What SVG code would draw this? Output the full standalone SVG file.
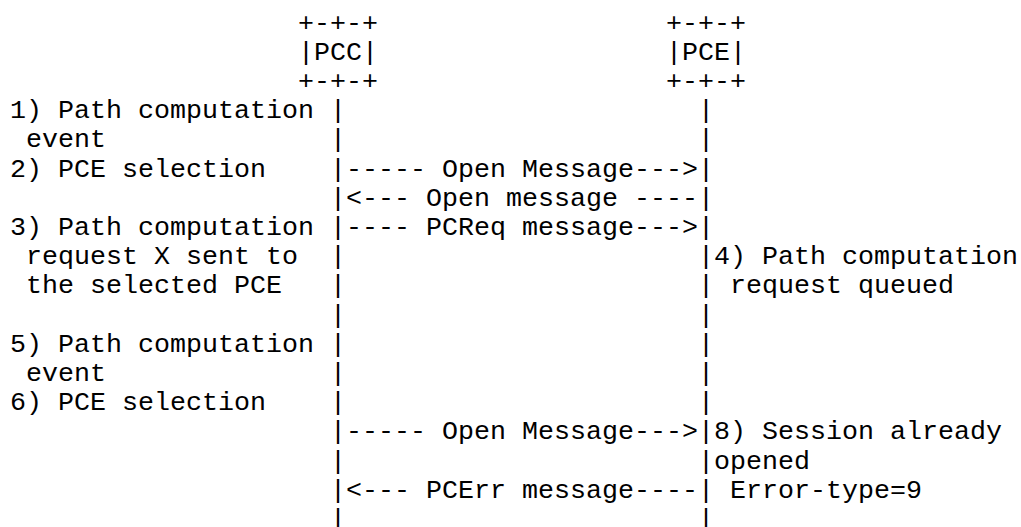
<svg xmlns="http://www.w3.org/2000/svg" width="1021" height="527" viewBox="0 0 1021 527">
  <style>
    /* monospaced grid: 16px per column (x = 10 + 16*col), 29.2px per row */
    .t { font-family: "Courier New", "Liberation Mono", monospace; font-size: 26.67px; fill: #000; white-space: pre; }
  </style>
  <rect width="1021" height="527" fill="#fff"/>

  <!-- PCC entity box -->
  <g id="pcc">
    <text class="t" x="298" y="30.5">+-+-+</text>
    <text class="t" x="298" y="59.7">|PCC|</text>
    <text class="t" x="298" y="88.9">+-+-+</text>
  </g>

  <!-- PCE entity box -->
  <g id="pce">
    <text class="t" x="666" y="30.5">+-+-+</text>
    <text class="t" x="666" y="59.7">|PCE|</text>
    <text class="t" x="666" y="88.9">+-+-+</text>
  </g>

  <g id="connectors">
    <!-- lifelines: one bar per row under each entity -->
    <text id="lifeline-pcc" class="t"><tspan x="330" y="118.1">|</tspan><tspan x="330" y="147.3">|</tspan><tspan x="330" y="176.5">|</tspan><tspan x="330" y="205.7">|</tspan><tspan x="330" y="234.9">|</tspan><tspan x="330" y="264.1">|</tspan><tspan x="330" y="293.3">|</tspan><tspan x="330" y="322.5">|</tspan><tspan x="330" y="351.7">|</tspan><tspan x="330" y="380.9">|</tspan><tspan x="330" y="410.1">|</tspan><tspan x="330" y="439.3">|</tspan><tspan x="330" y="468.5">|</tspan><tspan x="330" y="497.7">|</tspan><tspan x="330" y="526.9">|</tspan></text>
    <text id="lifeline-pce" class="t"><tspan x="698" y="118.1">|</tspan><tspan x="698" y="147.3">|</tspan><tspan x="698" y="176.5">|</tspan><tspan x="698" y="205.7">|</tspan><tspan x="698" y="234.9">|</tspan><tspan x="698" y="264.1">|</tspan><tspan x="698" y="293.3">|</tspan><tspan x="698" y="322.5">|</tspan><tspan x="698" y="351.7">|</tspan><tspan x="698" y="380.9">|</tspan><tspan x="698" y="410.1">|</tspan><tspan x="698" y="439.3">|</tspan><tspan x="698" y="468.5">|</tspan><tspan x="698" y="497.7">|</tspan><tspan x="698" y="526.9">|</tspan></text>
    <!-- messages between the lifelines -->
    <g id="messages">
      <text id="msg-open-1" class="t" x="346" y="176.5">----- Open Message---&gt;</text>
      <text id="msg-open-2" class="t" x="346" y="205.7">&lt;--- Open message ----</text>
      <text id="msg-pcreq" class="t" x="346" y="234.9">---- PCReq message---&gt;</text>
      <text id="msg-open-3" class="t" x="346" y="439.3">----- Open Message---&gt;</text>
      <text id="msg-pcerr" class="t" x="346" y="497.7">&lt;--- PCErr message----</text>
    </g>
  </g>

  <!-- PCC-side steps -->
  <g id="pcc-notes">
    <text class="t" x="10" y="118.1">1) Path computation</text>
    <text class="t" x="26" y="147.3">event</text>
    <text class="t" x="10" y="176.5">2) PCE selection</text>
    <text class="t" x="10" y="234.9">3) Path computation</text>
    <text class="t" x="26" y="264.1">request X sent to</text>
    <text class="t" x="26" y="293.3">the selected PCE</text>
    <text class="t" x="10" y="351.7">5) Path computation</text>
    <text class="t" x="26" y="380.9">event</text>
    <text class="t" x="10" y="410.1">6) PCE selection</text>
  </g>

  <!-- PCE-side steps -->
  <g id="pce-notes">
    <text class="t" x="714" y="264.1">4) Path computation</text>
    <text class="t" x="730" y="293.3">request queued</text>
    <text class="t" x="714" y="439.3">8) Session already</text>
    <text class="t" x="714" y="468.5">opened</text>
    <text class="t" x="730" y="497.7">Error-type=9</text>
  </g>
</svg>
